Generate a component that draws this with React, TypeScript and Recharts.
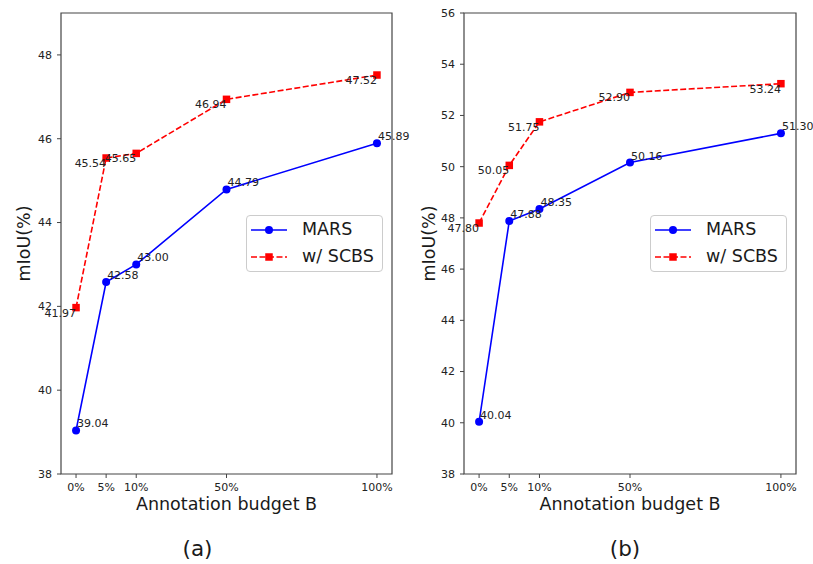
import React from 'react';
import { LineChart, Line, XAxis, YAxis, ReferenceArea, LabelList, Legend, Label } from 'recharts';

// ---- data ----
const budgetLabels = ['0%', '5%', '10%', '50%', '100%'];
const budgetSlots = [0, 1, 2, 5, 10];

const marsA = [39.04, 42.58, 43.0, 44.79, 45.89];
const scbsA = [41.97, 45.54, 45.65, 46.94, 47.52];
const yTicksA = [38, 40, 42, 44, 46, 48];
const yDomainA: [number, number] = [38, 49];

const marsB = [40.04, 47.88, 48.35, 50.16, 51.3];
const scbsB = [47.8, 50.05, 51.75, 52.9, 53.24];
const yTicksB = [38, 40, 42, 44, 46, 48, 50, 52, 54, 56];
const yDomainB: [number, number] = [38, 56];

const seriesNames = ['MARS', 'w/ SCBS'];
const xDomain: [number, number] = [-0.5, 10.5];

const FONT = '"DejaVu Sans", "Liberation Sans", sans-serif';
const BLUE = '#0000ff';
const RED = '#ff0000';
const DASH = '6 2.5';

const marsLabel = (p: any) => (
  <text x={p.x + 1} y={p.y - 3} fontSize={11} fontFamily={FONT} fill="#222" textAnchor="start">
    {Number(p.value).toFixed(2)}
  </text>
);
const scbsLabel = (p: any) => (
  <text x={p.x} y={p.y + 9} fontSize={11} fontFamily={FONT} fill="#222" textAnchor="end">
    {Number(p.value).toFixed(2)}
  </text>
);

const squareDot = (p: any) => (
  <rect key={`sq-${p.index}`} x={p.cx - 3.75} y={p.cy - 3.75} width={7.5} height={7.5} fill={RED} />
);

const LegendBox = () => (
  <div
    style={{
      width: 137,
      height: 57,
      boxSizing: 'border-box',
      border: '1px solid #cccccc',
      borderRadius: 4,
      background: 'rgba(255,255,255,0.85)',
      fontFamily: FONT,
      fontSize: 17.5,
      color: '#1a1a1a',
    }}
  >
    {seriesNames.map((name, i) => (
      <div key={name} style={{ display: 'flex', alignItems: 'center', height: 27 }}>
        <svg width={36} height={12} style={{ marginLeft: 4, flex: 'none' }}>
          <line
            x1={0}
            y1={6}
            x2={36}
            y2={6}
            stroke={i === 0 ? BLUE : RED}
            strokeWidth={1.6}
            strokeDasharray={i === 0 ? undefined : DASH}
          />
          {i === 0 ? (
            <circle cx={18} cy={6} r={4} fill={BLUE} />
          ) : (
            <rect x={14.25} y={2.25} width={7.5} height={7.5} fill={RED} />
          )}
        </svg>
        <span style={{ marginLeft: 15, lineHeight: '27px' }}>{name}</span>
      </div>
    ))}
  </div>
);

type PanelProps = {
  mars: number[];
  scbs: number[];
  yTicks: number[];
  yDomain: [number, number];
  tag: string;
  tagShift: number;
  width: number;
  yAxisWidth: number;
  marginRight: number;
  legendLeft: number;
};

const Panel = ({ mars, scbs, yTicks, yDomain, tag, tagShift, width, yAxisWidth, marginRight, legendLeft }: PanelProps) => {
  const data = budgetSlots.map((s, i) => ({ slot: s, mars: mars[i], scbs: scbs[i] }));
  const tickStyle = { fill: '#222', fontSize: 11, fontFamily: FONT };
  return (
    <LineChart width={width} height={564} data={data} margin={{ top: 13, right: marginRight, left: 0, bottom: 60 }}>
      <XAxis
        dataKey="slot"
        type="number"
        domain={xDomain}
        ticks={budgetSlots}
        interval={0}
        tickFormatter={(v: number) => budgetLabels[budgetSlots.indexOf(v)]}
        height={30}
        axisLine={false}
        tickSize={4}
        tickMargin={5}
        tickLine={{ stroke: '#444' }}
        tick={tickStyle}
      >
        <Label
          content={(p: any) => {
            const vb = p.viewBox || {};
            const cx = vb.x + vb.width / 2;
            return (
              <g>
                <text x={cx} y={510} textAnchor="middle" fontSize={17.5} fontFamily={FONT} fill="#1a1a1a">
                  Annotation budget B
                </text>
                <text x={cx + tagShift} y={556} textAnchor="middle" fontSize={21.5} fontFamily={FONT} fill="#1a1a1a">
                  {tag}
                </text>
              </g>
            );
          }}
        />
      </XAxis>
      <YAxis
        type="number"
        domain={yDomain}
        ticks={yTicks}
        interval={0}
        width={yAxisWidth}
        allowDataOverflow
        axisLine={false}
        tickSize={4}
        tickMargin={5}
        tickLine={{ stroke: '#444' }}
        tick={tickStyle}
      >
        <Label
          content={(p: any) => {
            const vb = p.viewBox || {};
            const cy = vb.y + vb.height / 2;
            return (
              <text
                x={24}
                y={cy}
                transform={`rotate(-90, 24, ${cy})`}
                textAnchor="middle"
                dominantBaseline="central"
                fontSize={17.5}
                fontFamily={FONT}
                fill="#1a1a1a"
              >
                mIoU(%)
              </text>
            );
          }}
        />
      </YAxis>
      <ReferenceArea
        x1={xDomain[0]}
        x2={xDomain[1]}
        y1={yDomain[0]}
        y2={yDomain[1]}
        fill="none"
        stroke="#444"
        strokeWidth={1.2}
        ifOverflow="visible"
      />
      <Line
        dataKey="mars"
        name={seriesNames[0]}
        stroke={BLUE}
        strokeWidth={1.6}
        dot={{ r: 4, fill: BLUE, stroke: BLUE, strokeWidth: 0 }}
        activeDot={false}
        isAnimationActive={false}
      >
        <LabelList dataKey="mars" content={marsLabel} />
      </Line>
      <Line
        dataKey="scbs"
        name={seriesNames[1]}
        stroke={RED}
        strokeWidth={1.6}
        strokeDasharray={DASH}
        dot={squareDot}
        activeDot={false}
        isAnimationActive={false}
      >
        <LabelList dataKey="scbs" content={scbsLabel} />
      </Line>
      <Legend
        layout="horizontal"
        align="center"
        verticalAlign="middle"
        width={137}
        wrapperStyle={{ left: legendLeft, top: 215, width: 137 }}
        content={() => <LegendBox />}
      />
    </LineChart>
  );
};

export default function App() {
  return (
    <div style={{ position: 'absolute', left: 0, top: 0, width: 813, height: 564, background: '#fff' }}>
      <style>{'svg.recharts-surface { overflow: visible; }'}</style>
      <div style={{ position: 'absolute', left: 0, top: 0 }}>
        <Panel
          mars={marsA}
          scbs={scbsA}
          yTicks={yTicksA}
          yDomain={yDomainA}
          tag="(a)"
          tagShift={-29}
          width={405}
          yAxisWidth={61}
          marginRight={13}
          legendLeft={246}
        />
      </div>
      <div style={{ position: 'absolute', left: 405, top: 0 }}>
        <Panel
          mars={marsB}
          scbs={scbsB}
          yTicks={yTicksB}
          yDomain={yDomainB}
          tag="(b)"
          tagShift={-5}
          width={408}
          yAxisWidth={59}
          marginRight={17}
          legendLeft={245}
        />
      </div>
    </div>
  );
}
